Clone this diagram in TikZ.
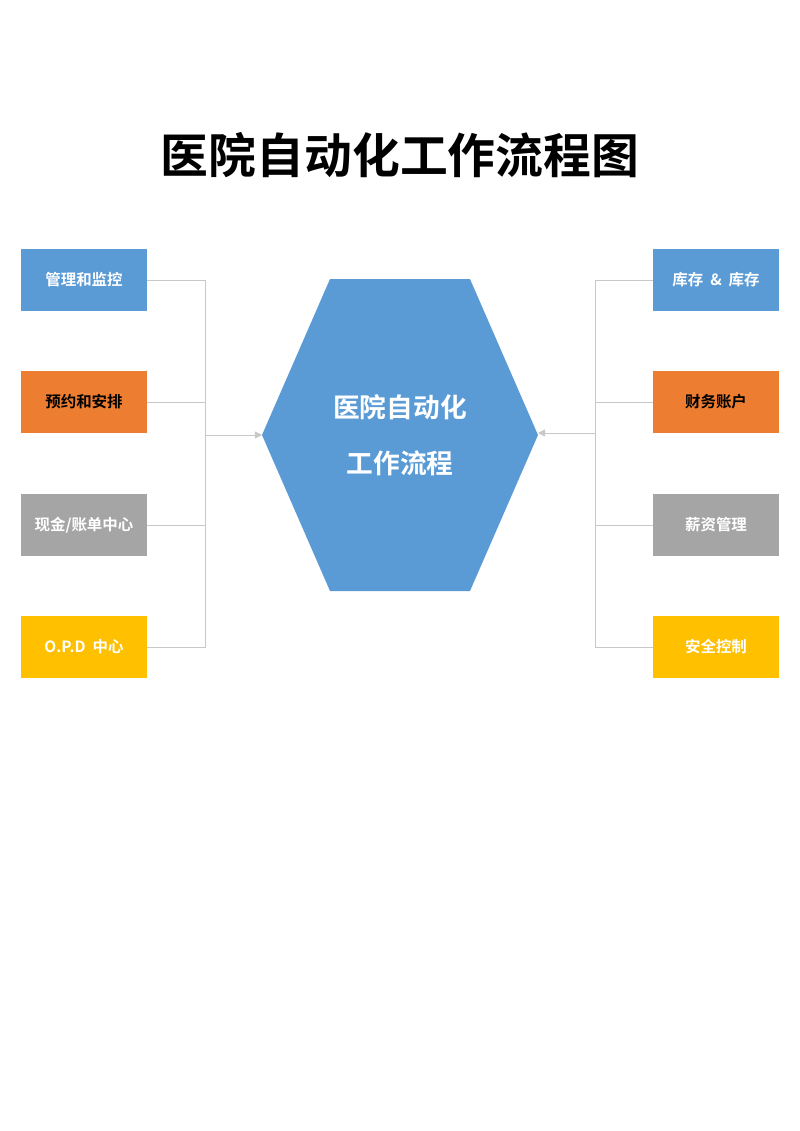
\documentclass[tikz,border=0pt]{standalone}
\usepackage{fontspec}
\setmainfont{Noto Sans CJK SC}
\newfontfamily\cjkbold{Noto Sans CJK SC Bold}
\usetikzlibrary{shapes.geometric,arrows.meta}
\definecolor{boxblue}{HTML}{5B9BD5}
\definecolor{boxorange}{HTML}{ED7D31}
\definecolor{boxgray}{HTML}{A5A5A5}
\definecolor{boxyellow}{HTML}{FFC000}
\definecolor{linkgray}{HTML}{C8C8C8}
\begin{document}
\begin{tikzpicture}[
  x=0.025cm,y=-0.025cm,
  taskbox/.style={rectangle,minimum width=3.15cm,minimum height=1.53cm,inner sep=0pt,
   text=white,font=\cjkbold\fontsize{11}{13}\selectfont},
  link/.style={draw=linkgray,line width=0.6pt},
  linkarrow/.style={link,-{Triangle[length=5pt,width=5pt]}}
  ]
  \useasboundingbox (0,0) rectangle (800,1131);
  \node (title) at (400,155) {\cjkbold\fontsize{34}{40}\selectfont 医院自动化工作流程图};

  % centre
  \fill[boxblue] (330,279) -- (470,279) -- (538,435) -- (470,591) -- (330,591) -- (262,435) -- cycle;
  \node (hex) at (400,435) [text=white,align=center,font=\cjkbold\fontsize{19}{40}\selectfont] {医院自动化\\工作流程};
  \coordinate (hexL) at (262,435);
  \coordinate (hexR) at (538,433);

  % left side
  \node[taskbox,fill=boxblue] (L1) at (84,280) {管理和监控};
  \node[taskbox,fill=boxorange,text=black] (L2) at (84,402) {预约和安排};
  \node[taskbox,fill=boxgray] (L3) at (84,525) {现金/账单中心};
  \node[taskbox,fill=boxyellow] (L4) at (84,647) {O.P.D\ \ 中心};

  % right side
  \node[taskbox,fill=boxblue] (R1) at (716,280) {库存\ \ \&\ \ 库存};
  \node[taskbox,fill=boxorange,text=black] (R2) at (716,402) {财务账户};
  \node[taskbox,fill=boxgray] (R3) at (716,525) {薪资管理};
  \node[taskbox,fill=boxyellow] (R4) at (716,647) {安全控制};

  \coordinate (LJ) at (205,435);
  \coordinate (RJ) at (595,433);
  \foreach \n in {L1,L2,L3,L4}
    \draw[link] (\n.east) -| (LJ);
  \foreach \n in {R1,R2,R3,R4}
    \draw[link] (\n.west) -| (RJ);
  \draw[linkarrow] (LJ) -- (hexL);
  \draw[linkarrow] (RJ) -- (hexR);
\end{tikzpicture}
\end{document}
